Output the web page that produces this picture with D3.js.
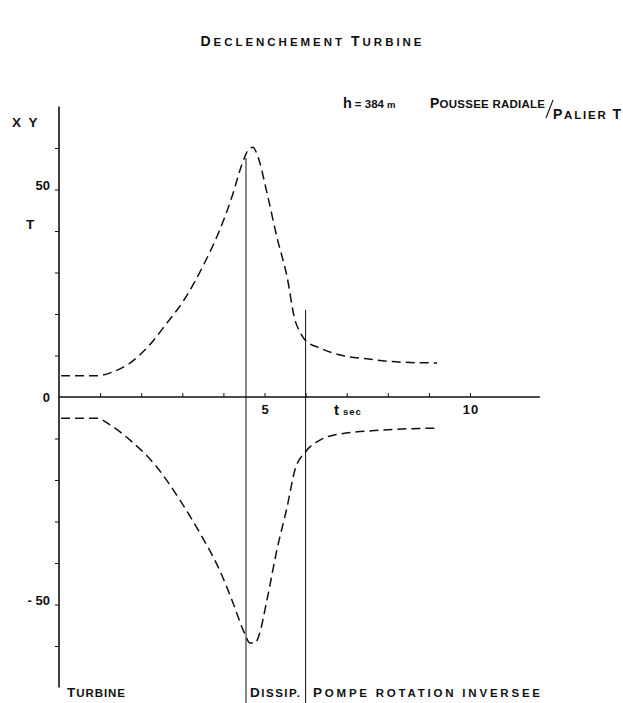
<!DOCTYPE html>
<html>
<head>
<meta charset="utf-8">
<script src="https://cdn.jsdelivr.net/npm/d3@7"></script>
<style>
  html, body { margin: 0; padding: 0; background: #fff; }
  svg text { font-family: "Liberation Sans", Arial, sans-serif; fill: #111; font-weight: bold; }
</style>
</head>
<body>
<svg id="chart" width="623" height="703"></svg>
<script>
// Radial thrust on the turbine bearing after load rejection (h = 384 m)
const upperT = [0.05, 0.92, 1.3, 1.7, 2.2, 2.6, 3.05, 3.5, 3.9, 4.2, 4.45, 4.6, 4.72, 4.82, 5.06, 5.3, 5.55, 5.74, 5.86, 5.99, 6.35, 6.84, 7.49, 8.3, 9.2];
const upperV = [5.1, 5.1, 6.0, 8.0, 12.5, 17.5, 23.5, 31.5, 40, 48, 56, 59.5, 60.2, 58.5, 49.2, 38.6, 28.9, 18.6, 15.7, 13.7, 11.8, 10.1, 9.2, 8.4, 8.2];
const lowerT = [0.05, 0.92, 1.24, 1.73, 2.34, 2.94, 3.43, 3.92, 4.23, 4.5, 4.65, 4.77, 4.87, 5.06, 5.3, 5.55, 5.74, 5.99, 6.35, 6.67, 7.81, 9.2];
const lowerV = [-5.1, -5.1, -6.7, -10.4, -16.4, -24.8, -32.8, -42.0, -49.5, -56.6, -59.3, -59.3, -57.3, -48.9, -36.9, -26.5, -17.6, -13.3, -10.4, -9.2, -8, -7.5];

// regime boundaries (time, top of the line in T)
const boundaryT = [4.55, 6.0];
const boundaryTop = [57.6, 21];

const xTicks = [1, 2, 3, 4, 5, 6, 7, 8, 9, 10];
const xLabels = [5, 10];
const yTicks = [60, 50, 40, 30, 20, 10, -10, -20, -30, -40, -50, -60];
const yLabels = [50, 0, -50];
// capital = full-size letter, lower case = small capital
const regimes = ["Turbine", "Dissip.", "Pompe rotation inversee"];

const svg = d3.select("#chart");
const x = d3.scaleLinear().domain([0, 10]).range([59, 470]);
const y = d3.scaleLinear().domain([-70, 70]).range([687.5, 106.5]);

const ink = "#111";

// small-caps: upper case letters drawn large, lower case drawn as small capitals
function smallCaps(sel, str, big, small) {
  const runs = str.match(/[A-Z]+|[^A-Z]+/g);
  runs.forEach(r => {
    const isBig = /[A-Z]/.test(r[0]);
    sel.append("tspan").attr("font-size", isBig ? big : small).text(r.toUpperCase());
  });
}

// title block
const t1 = svg.append("text").attr("x", 311).attr("y", 46).attr("text-anchor", "middle")
  .attr("textLength", 221).attr("lengthAdjust", "spacing");
smallCaps(t1, "Declenchement  Turbine", 14, 11.5);

svg.append("text").attr("x", 343).attr("y", 108).attr("font-size", 14.5).text("h")
  .append("tspan").attr("font-size", 11.5).attr("dx", 3).text("= 384")
  .append("tspan").attr("font-size", 9.5).attr("dx", 3).text("m");

const t2 = svg.append("text").attr("x", 430).attr("y", 108)
  .attr("textLength", 115).attr("lengthAdjust", "spacing");
smallCaps(t2, "Poussee radiale", 14, 11.5);
svg.append("line").attr("x1", 546).attr("y1", 118).attr("x2", 553).attr("y2", 100)
  .attr("stroke", ink).attr("stroke-width", 1.1);
const t3 = svg.append("text").attr("x", 553).attr("y", 119)
  .attr("textLength", 68).attr("lengthAdjust", "spacing");
smallCaps(t3, "Palier T", 14, 11.5);

// axes
const yAxis = d3.axisLeft(y).tickValues(yTicks).tickSize(4).tickFormat("");
svg.append("g").attr("transform", `translate(${x(0)},0)`).call(yAxis)
  .call(g => g.select(".domain").remove())
  .selectAll("line").attr("stroke", ink).attr("stroke-width", 1);
svg.append("line").attr("x1", x(0)).attr("x2", x(0)).attr("y1", y(70)).attr("y2", y(-70))
  .attr("stroke", ink).attr("stroke-width", 1.6);

const xAxis = d3.axisTop(x).tickValues(xTicks).tickSize(4).tickFormat("");
svg.append("g").attr("transform", `translate(0,${y(0)})`).call(xAxis)
  .call(g => g.select(".domain").remove())
  .selectAll("line").attr("stroke", ink).attr("stroke-width", 1);
svg.append("line").attr("x1", x(0)).attr("x2", x(11.7)).attr("y1", y(0)).attr("y2", y(0))
  .attr("stroke", ink).attr("stroke-width", 1.3);

// axis labels
svg.selectAll(".ylab").data(yLabels).join("text")
  .attr("x", 50).attr("y", d => d === 0 ? y(d) + 5 : y(d))
  .attr("text-anchor", "end").attr("font-size", 13)
  .text(d => d < 0 ? "- " + Math.abs(d) : d);
svg.selectAll(".xlab").data(xLabels).join("text")
  .attr("x", d => x(d) + 1).attr("y", y(0) + 17).attr("text-anchor", "middle").attr("font-size", 13)
  .attr("letter-spacing", 1).text(d => d);
svg.append("text").attr("x", 12).attr("y", 127).attr("font-size", 13.5).attr("letter-spacing", 2).text("X Y");
svg.append("text").attr("x", 26).attr("y", 229).attr("font-size", 13.5).text("T");
svg.append("text").attr("x", 334).attr("y", y(0) + 18).attr("font-size", 15).text("t")
  .append("tspan").attr("font-size", 9.5).attr("dx", 4).attr("letter-spacing", 1).text("sec");

// regime boundary lines
svg.selectAll(".bound").data(boundaryT).join("line")
  .attr("x1", d => x(d)).attr("x2", d => x(d))
  .attr("y1", (d, i) => y(boundaryTop[i])).attr("y2", 703)
  .attr("stroke", ink).attr("stroke-width", 1);

// dashed thrust curves
const line = d3.line().x(d => x(d[0])).y(d => y(d[1])).curve(d3.curveMonotoneX);
[[upperT, upperV], [lowerT, lowerV]].forEach(([ts, vs]) => {
  svg.append("path").datum(ts.map((t, i) => [t, vs[i]]))
    .attr("d", line).attr("fill", "none").attr("stroke", ink)
    .attr("stroke-width", 1.5).attr("stroke-dasharray", "9,5");
});

// regime names along the bottom
const regX = [67, 250, 313];
const regW = [58, 50, 227];
regimes.forEach((r, i) => {
  const tx = svg.append("text").attr("x", regX[i]).attr("y", 697)
    .attr("textLength", regW[i]).attr("lengthAdjust", "spacing");
  smallCaps(tx, r, 13.5, 11.5);
});
</script>
</body>
</html>
